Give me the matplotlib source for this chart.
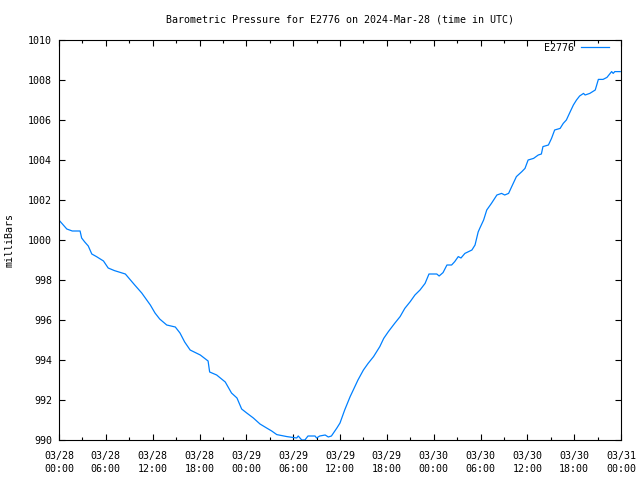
import pandas as pd
import matplotlib
matplotlib.use("Agg")
import matplotlib.pyplot as plt
import matplotlib.dates as mdates

# hours since 2024-03-28 00:00 UTC
hours = [0.0, 0.1, 1.0, 1.7, 2.7, 2.9, 3.3, 3.75, 4.2, 4.8, 5.7, 6.3, 7.1, 8.5,
         9.7, 10.6, 11.7, 12.3, 12.9, 13.8, 14.9, 15.5, 16.1, 16.8, 18.1, 19.1,
         19.3, 20.2, 21.3, 22.1, 22.8, 23.4, 24.05, 24.9, 25.75, 26.6, 27.25,
         27.9, 29.2, 30.45, 30.65, 31.1, 31.5, 31.9, 32.8, 33.0, 33.4, 34.1,
         34.5, 34.9, 35.6, 36.0, 36.6, 37.3, 37.7, 38.3, 39.0, 39.6, 40.3, 40.7,
         41.1, 41.6, 42.2, 43.0, 43.7, 44.3, 45.0, 45.6, 46.25, 46.9, 47.4, 48.4,
         48.7, 49.2, 49.7, 50.3, 50.7, 51.15, 51.5, 52.0, 52.9, 53.3, 53.7, 53.9,
         54.4, 54.8, 55.4, 56.1, 56.7, 57.1, 57.6, 58.0, 58.6, 59.3, 59.7, 60.1,
         60.8, 61.4, 61.8, 62.0, 62.7, 63.1, 63.5, 64.2, 64.6, 65.0, 65.5, 65.9,
         66.3, 66.7, 67.2, 67.4, 68.0, 68.7, 69.1, 69.7, 70.2, 70.8, 71.0, 71.2,
         71.9]
pressure = [1001.0, 1000.95, 1000.55, 1000.45, 1000.45, 1000.1, 999.9, 999.7, 999.3,
            999.17, 998.95, 998.6, 998.47, 998.3, 997.75, 997.35, 996.75, 996.35,
            996.05, 995.75, 995.65, 995.35, 994.9, 994.5, 994.25, 993.95, 993.4,
            993.25, 992.9, 992.35, 992.1, 991.55, 991.35, 991.1, 990.8, 990.6,
            990.45, 990.27, 990.17, 990.1, 990.2, 990.0, 990.0, 990.2, 990.2,
            990.1, 990.2, 990.25, 990.15, 990.2, 990.6, 990.85, 991.5, 992.17,
            992.5, 993.0, 993.5, 993.83, 994.17, 994.42, 994.67, 995.08, 995.42,
            995.83, 996.17, 996.58, 996.92, 997.25, 997.5, 997.83, 998.3, 998.3,
            998.2, 998.37, 998.75, 998.75, 998.92, 999.17, 999.1, 999.33, 999.5,
            999.75, 1000.4, 1000.58, 1001.0, 1001.5, 1001.83, 1002.25, 1002.33,
            1002.25, 1002.33, 1002.67, 1003.17, 1003.42, 1003.58, 1004.0, 1004.08,
            1004.25, 1004.3, 1004.67, 1004.75, 1005.08, 1005.5, 1005.58, 1005.83,
            1006.0, 1006.42, 1006.75, 1007.0, 1007.2, 1007.33, 1007.25, 1007.33,
            1007.5, 1008.03, 1008.03, 1008.13, 1008.42, 1008.33, 1008.42, 1008.42]

station = "E2776"
start = pd.Timestamp("2024-03-28 00:00")
end = pd.Timestamp("2024-03-31 00:00")
yticks = list(range(990, 1011, 2))

times = start + pd.to_timedelta(hours, unit="h")

plt.rcParams["font.family"] = ["DejaVu Sans Mono"]
plt.rcParams["font.size"] = 7.2

fig = plt.figure(figsize=(6.4, 4.8), dpi=100)
ax = fig.add_axes([59 / 640, 40 / 480, 562 / 640, 400 / 480])

ax.plot(times, pressure, color="#0080ff", lw=0.9, label=station)

ax.set_xlim(start, end)
ax.set_ylim(990, 1010)
ax.set_yticks(yticks)
ax.xaxis.set_major_locator(mdates.HourLocator(byhour=[0, 6, 12, 18]))
ax.xaxis.set_minor_locator(mdates.HourLocator(byhour=[3, 9, 15, 21]))
ax.xaxis.set_major_formatter(mdates.DateFormatter("%m/%d\n%H:%M"))
for lab in ax.get_xticklabels():
    lab.set_linespacing(1.35)

ax.tick_params(which="both", direction="in", top=True, right=True, width=0.8)
ax.tick_params(which="major", length=4)
ax.tick_params(which="minor", length=2.2)
ax.tick_params(axis="y", pad=5)
ax.tick_params(axis="x", pad=8)
for s in ax.spines.values():
    s.set_linewidth(0.8)

ax.legend(loc="upper right", bbox_to_anchor=(0.979, 0.993), frameon=False,
          markerfirst=False, handlelength=2.8, borderaxespad=0.0,
          handletextpad=0.7, borderpad=0.0)

fig.text(340 / 640, 1 - 20 / 480, f"Barometric Pressure for {station} on 2024-Mar-28 (time in UTC)",
         ha="center", va="center")
fig.text(10 / 640, 240 / 480, "milliBars", rotation=90, ha="center", va="center")

fig.savefig("out.png", dpi=100)
